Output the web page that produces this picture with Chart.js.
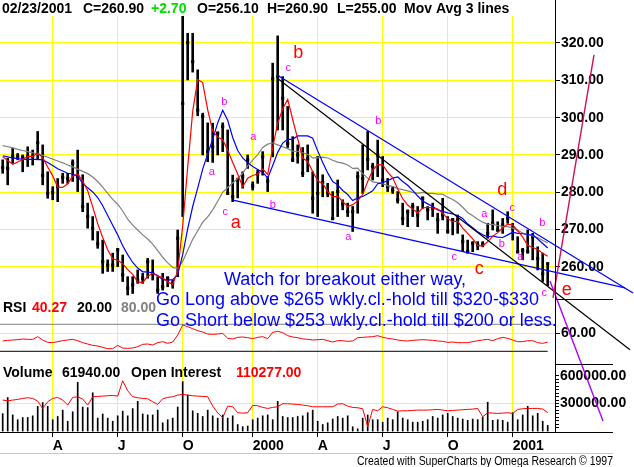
<!DOCTYPE html>
<html lang="en">
<head>
<meta charset="utf-8">
<title>Gold weekly, Jan 1999 - Feb 2001</title>
<script src="https://cdn.jsdelivr.net/npm/chart.js@4.4.1/dist/chart.umd.min.js"></script>
<style>
  html, body { margin: 0; padding: 0; background: #fff; overflow: hidden; }
  canvas { display: block; }
</style>
</head>
<body>
<canvas id="chart" width="634" height="467"></canvas>
<script>
// one entry per week, 01/22/1999 .. 02/23/2001 (x value = week number)
const highs = [
  288.7, 289.1, 291.8, 290.4, 290.0, 292.2, 291.3, 296.3, 292.7, 285.5,
  281.5, 283.7, 285.1, 285.1, 288.7, 291.3, 284.7, 277.1, 273.5, 269.5,
  267.2, 261.9, 263.7, 265.0, 263.2, 257.4, 257.4, 259.2, 258.3, 262.3,
  261.9, 257.4, 258.3, 257.4, 256.5, 269.9, 327.5, 322.6, 322.6, 312.8,
  301.2, 298.6, 298.5, 296.2, 298.6, 296.7, 284.6, 283.8, 285.5, 290.0,
  282.8, 286.0, 290.9, 284.2, 314.6, 321.9, 311.0, 303.0, 294.9, 292.7,
  292.0, 292.7, 285.5, 289.6, 284.7, 282.4, 280.2, 283.3, 278.0, 277.1,
  276.2, 285.5, 292.7, 296.3, 287.8, 294.0, 289.6, 283.7, 281.5, 280.2,
  277.1, 275.3, 277.1, 276.2, 278.8, 276.2, 277.1, 274.4, 278.4, 273.5,
  273.0, 273.9, 268.6, 267.2, 266.8, 266.8, 266.8, 271.7, 275.3, 272.1,
  273.0, 274.8, 271.7, 268.1, 265.0, 269.9, 269.0, 265.4, 263.7, 260.9
];
const lows = [
  285.1, 282.0, 287.8, 288.7, 285.5, 286.9, 287.3, 288.7, 282.0, 278.4,
  278.0, 277.5, 282.4, 282.4, 282.9, 280.2, 274.8, 270.4, 267.2, 265.0,
  258.3, 258.8, 258.8, 260.1, 256.1, 252.5, 252.9, 255.6, 255.6, 257.0,
  256.5, 252.9, 253.8, 254.7, 254.3, 257.4, 273.5, 310.1, 312.2, 300.5,
  290.0, 288.2, 288.0, 290.0, 290.9, 279.7, 277.5, 278.5, 281.1, 286.4,
  280.6, 282.4, 284.6, 280.2, 289.5, 296.7, 296.7, 292.0, 288.2, 287.8,
  284.2, 285.5, 274.4, 273.5, 278.8, 278.8, 272.6, 273.5, 275.3, 273.5,
  269.5, 274.4, 279.7, 286.0, 283.3, 284.2, 281.5, 280.2, 279.7, 277.1,
  271.3, 270.8, 273.5, 270.8, 275.7, 272.6, 273.5, 269.0, 272.6, 269.0,
  268.6, 269.0, 264.1, 263.7, 264.1, 264.6, 265.4, 267.7, 269.9, 269.5,
  269.0, 271.7, 267.2, 263.7, 261.9, 263.7, 261.9, 259.2, 256.1, 255.0
];
const closes = [
  286.6, 286.4, 289.6, 289.6, 289.4, 289.6, 289.6, 293.3, 284.5, 279.7,
  279.9, 281.5, 284.0, 283.7, 287.8, 284.2, 276.2, 273.5, 270.4, 266.2,
  261.4, 260.5, 260.5, 264.6, 257.9, 254.3, 255.2, 256.5, 257.0, 261.4,
  258.3, 253.8, 254.7, 257.0, 255.6, 267.7, 303.8, 320.1, 315.0, 302.0,
  300.3, 290.9, 292.2, 295.8, 297.6, 279.7, 278.8, 283.3, 284.2, 288.7,
  281.7, 284.9, 289.5, 283.0, 310.4, 311.0, 305.2, 293.1, 288.7, 290.0,
  285.1, 289.0, 278.4, 279.7, 282.6, 279.9, 273.0, 280.2, 276.9, 274.8,
  274.8, 284.2, 283.7, 288.8, 286.9, 290.0, 283.3, 281.5, 280.6, 278.0,
  273.0, 274.8, 276.2, 273.9, 278.4, 275.3, 275.7, 272.6, 273.9, 269.5,
  272.6, 272.6, 266.8, 264.1, 266.3, 265.9, 266.1, 269.0, 271.7, 269.9,
  271.3, 273.0, 270.4, 264.1, 264.4, 264.1, 268.1, 262.3, 258.2, 260.9
];
// the three moving average lines (red, blue, grey)
const maFast = [
  289.5, 288.5, 287.5, 288.1, 288.8, 289.6, 289.6, 290.5, 289.3, 286.8,
  284.4, 281.4, 281.3, 282.3, 284.3, 284.9, 283.0, 280.4, 276.1, 271.6,
  267.9, 264.6, 262.2, 261.8, 260.9, 259.3, 258.0, 256.0, 255.8, 257.5,
  258.3, 257.6, 257.1, 256.0, 255.3, 258.8, 271.0, 286.8, 301.7, 310.2,
  309.4, 302.1, 296.4, 294.8, 294.1, 291.3, 288.0, 284.9, 281.5, 283.8,
  284.5, 284.9, 286.2, 284.8, 292.0, 298.5, 302.4, 304.9, 299.5, 294.3,
  289.2, 288.2, 285.6, 283.1, 282.4, 280.2, 278.8, 278.9, 277.5, 276.2,
  276.7, 277.7, 279.4, 282.9, 285.9, 287.4, 287.3, 285.4, 283.9, 280.9,
  278.3, 276.6, 275.5, 274.5, 275.8, 276.0, 275.8, 275.5, 274.4, 272.9,
  272.2, 272.2, 270.4, 269.0, 267.5, 265.8, 265.6, 266.8, 268.2, 269.2,
  270.5, 271.5, 271.2, 269.7, 268.0, 265.8, 265.2, 264.7, 263.7, 262.9
];
const maMid = [
  289.8, 289.5, 289.2, 289.0, 288.9, 288.8, 288.8, 288.8, 288.7, 288.0,
  287.2, 286.3, 285.7, 285.1, 284.9, 284.3, 282.4, 281.2, 280.1, 278.6,
  276.4, 273.8, 271.2, 268.6, 265.7, 263.3, 261.2, 259.7, 258.7, 258.7,
  258.4, 257.7, 256.6, 256.5, 256.6, 258.0, 263.3, 270.3, 276.2, 281.1,
  286.2, 290.3, 294.2, 298.6, 302.0, 299.3, 294.7, 291.2, 289.2, 287.9,
  286.9, 286.1, 285.4, 283.8, 287.2, 290.7, 293.2, 294.2, 294.2, 295.1,
  295.1, 295.1, 294.5, 291.1, 288.0, 285.2, 282.9, 282.0, 280.5, 279.4,
  277.8, 278.5, 278.9, 279.6, 280.4, 282.3, 282.6, 283.1, 283.8, 284.1,
  282.9, 281.9, 280.5, 279.0, 277.7, 276.9, 276.2, 275.3, 274.9, 274.5,
  274.2, 273.8, 273.0, 271.5, 270.5, 269.4, 268.6, 268.1, 268.3, 268.0,
  267.9, 268.6, 269.3, 269.0, 268.9, 268.7, 268.6, 267.5, 266.3, 265.1
];
const maSlow = [
  292.5, 292.2, 291.9, 291.5, 291.2, 290.9, 290.6, 290.3, 289.9, 289.4,
  288.9, 288.4, 287.9, 287.3, 286.8, 286.2, 285.6, 285.0, 284.1, 282.9,
  281.4, 279.7, 278.1, 276.8, 275.0, 272.8, 271.2, 269.9, 268.6, 267.5,
  266.1, 264.4, 262.6, 261.1, 259.9, 259.6, 261.5, 264.5, 267.4, 269.7,
  272.0, 273.4, 275.3, 277.6, 280.0, 281.3, 282.5, 283.7, 285.1, 287.1,
  288.6, 290.1, 292.0, 292.9, 293.2, 292.7, 292.2, 291.7, 291.0, 291.0,
  290.6, 290.2, 289.2, 289.2, 289.4, 289.2, 288.6, 288.1, 287.8, 287.3,
  286.4, 286.5, 285.0, 283.8, 282.8, 282.6, 282.3, 281.8, 281.6, 281.0,
  280.7, 280.4, 280.0, 279.7, 280.0, 279.7, 279.7, 279.5, 279.5, 278.7,
  278.1, 277.2, 276.0, 274.6, 273.7, 272.8, 272.0, 271.5, 271.4, 271.1,
  270.9, 270.8, 270.4, 269.8, 269.1, 268.7, 268.3, 267.9, 267.1, 266.5
];
const rsi = [
  42.9, 44.4, 45.1, 45.8, 47.3, 46.6, 46.6, 52.5, 45.1, 39.9,
  39.2, 41.4, 43.6, 45.1, 46.6, 43.6, 39.2, 36.2, 33.2, 31.8,
  28.8, 25.8, 25.8, 33.2, 27.3, 26.6, 27.3, 30.3, 35.5, 36.2,
  34.0, 39.2, 41.4, 37.7, 40.6, 56.2, 78.4, 74.7, 70.3, 65.8,
  62.9, 58.4, 57.7, 58.4, 59.9, 48.8, 47.3, 51.0, 51.8, 50.3,
  48.1, 51.0, 52.5, 48.1, 62.1, 64.4, 61.4, 54.7, 51.8, 50.3,
  47.5, 46.6, 45.1, 45.8, 46.6, 43.6, 40.6, 43.6, 43.6, 42.1,
  42.9, 50.3, 51.0, 51.8, 52.5, 54.7, 51.0, 48.8, 47.3, 45.1,
  43.6, 42.9, 44.4, 45.1, 45.8, 45.1, 44.4, 42.9, 42.1, 39.9,
  40.6, 39.2, 39.2, 39.2, 41.4, 43.6, 45.1, 46.6, 43.6, 48.1,
  51.0, 48.8, 45.1, 41.4, 41.4, 43.6, 43.6, 39.2, 37.7, 40.27
];
const volume = [
  190000, 365000, 176000, 124000, 148000, 148000, 166000, 269000, 310000, 269000,
  124000, 159000, 228000, 107000, 210000, 531000, 262000, 255000, 417000, 141000,
  186000, 141000, 107000, 166000, 217000, 166000, 245000, 324000, 186000, 176000,
  176000, 228000, 90000, 124000, 141000, 262000, 538000, 393000, 221000, 193000,
  159000, 228000, 166000, 141000, 176000, 141000, 166000, 72000, 48000, 55000,
  124000, 141000, 166000, 176000, 124000, 324000, 159000, 148000, 148000, 159000,
  166000, 200000, 228000, 107000, 72000, 90000, 131000, 159000, 141000, 166000,
  48000, 25000, 141000, 176000, 124000, 124000, 97000, 141000, 124000, 210000,
  141000, 124000, 97000, 97000, 107000, 124000, 159000, 141000, 176000, 193000,
  159000, 141000, 131000, 117000, 131000, 124000, 152000, 314000, 117000, 124000,
  117000, 97000, 200000, 124000, 176000, 269000, 166000, 193000, 107000, 61940
];
const openInterest = [
  148000, 146000, 148000, 150000, 153000, 155000, 153000, 145000, 123000, 143000,
  153000, 156000, 148000, 133000, 156000, 158000, 151000, 133000, 158000, 159000,
  160000, 161000, 162000, 160000, 206000, 176000, 158000, 155000, 153000, 152000,
  143000, 135000, 152000, 156000, 158000, 163000, 165000, 163000, 161000, 160000,
  159000, 158000, 130000, 110000, 95000, 130000, 128000, 110000, 109000, 110000,
  132000, 131000, 126000, 123000, 126000, 128000, 137000, 137000, 136000, 135000,
  133000, 131000, 128000, 128000, 128000, 128000, 128000, 136000, 137000, 130000,
  126000, 125000, 122000, 68000, 120000, 116000, 128000, 125000, 120000, 115000,
  116000, 116000, 117000, 118000, 118000, 118000, 119000, 120000, 118000, 116000,
  117000, 118000, 119000, 120000, 121000, 123000, 98000, 110000, 109000, 108000,
  109000, 110000, 108000, 120000, 122000, 123000, 123000, 123000, 121000, 110277
];

const tickWeeks = [10, 23, 36, 50, 63, 76, 89, 102];
const tickLabels = ['A', 'J', 'O', '2000', 'A', 'J', 'O', '2001'];
const priceTicks = [260, 270, 280, 290, 300, 310, 320];
const rsiTicks = [60];
const volLabelTicks = [300000, 600000];
const rsiLevels = [80, 20];

// drawn-in trend lines and arrows, [week, price] end points
const trendUpper = [[54.86, 311.4], [126.06, 253.0]];
const trendSteep = [[54.86, 310.6], [125.46, 237.8]];
const trendLower = [[46.06, 277.9], [124.46, 254.4]];
const arrowUp = [[110.06, 251.7], [118.26, 316.8]];
const arrowDown = [[109.46, 256.25], [120.06, 218.74]];

// wave labels [week, price, letter]
const waveMinor = [
  [44.3, 304.3, 'b'], [41.8, 285.5, 'a'], [44.5, 274.8, 'c'], [50.1, 294.8, 'a'],
  [54.0, 276.6, 'b'], [57.1, 313.2, 'c'], [75.1, 299.2, 'b'], [69.1, 268.0, 'a'],
  [90.3, 262.8, 'c'], [96.3, 274.1, 'a'], [99.8, 266.1, 'b'], [101.9, 275.7, 'c'],
  [103.5, 262.8, 'a'], [107.9, 271.7, 'b'], [108.3, 253.0, 'c']
];
const waveMajor = [
  [46.6, 271.9, 'a'], [59.1, 317.2, 'b'], [95.3, 259.5, 'c'], [99.9, 280.6, 'd'], [112.8, 253.8, 'e']
];
const comments = [
  'Watch for breakout either way,',
  'Go Long above $265 wkly.cl.-hold till $320-$330',
  'Go Short below $253 wkly.cl.-hold till $200 or less.'
];
const commentAt = [[44.26, 255.3], [30.66, 249.8], [30.66, 244.2]];

const header = [
  ['02/23/2001', '#000'], ['C=260.90', '#000'], ['+2.70', '#00e000'], ['O=256.10', '#000'],
  ['H=260.90', '#000'], ['L=255.00', '#000'], ['Mov Avg 3 lines', '#000']
];
const headerX = [2, 83, 151, 197, 267, 337, 404];
const rsiLegend = [['RSI', '#000', 3], ['40.27', '#ff0000', 32], ['20.00', '#000', 77], ['80.00', '#808080', 121]];
const volLegend = [['Volume', '#000', 3], ['61940.00', '#000', 62], ['Open Interest', '#000', 131], ['110277.00', '#ff0000', 236]];
const footer = 'Created with SuperCharts by Omega Research \u00A9 1997';

const FONT = '"Liberation Sans", Arial, Helvetica, sans-serif';
const YELLOW = '#ffff00';
const tickFont = { family: FONT, size: 14, weight: 'bold' };

const series = arr => arr.map((v, i) => ({ x: i, y: v }));
const pairs = arr => arr.map(p => ({ x: p[0], y: p[1] }));

function line(data, color, axis, width, order) {
  return { type: 'line', data, yAxisID: axis, borderColor: color, borderWidth: width,
    pointRadius: 0, tension: 0, fill: false, order };
}
function trend(points, color) {
  return Object.assign(line(pairs(points), color, 'price', 1.2, 1), { clip: false });
}
function arrow(points, color, head, edge, angle, size) {
  return Object.assign(line(pairs(points), color, 'price', 1.4, 0), {
    clip: false, pointStyle: 'triangle', pointRadius: [0, size], pointRotation: [0, angle],
    pointBackgroundColor: head, pointBorderColor: edge, pointBorderWidth: 1
  });
}
function rightAxis(weight, min, max, ticks) {
  return {
    type: 'linear', position: 'right', stack: 'panes', stackWeight: weight,
    min, max, offset: false, beginAtZero: false,
    grid: { color: YELLOW, lineWidth: 1, drawTicks: true, tickLength: 5, tickColor: '#000' },
    border: { display: true, color: '#000' },
    afterBuildTicks: s => { s.ticks = ticks.map(v => ({ value: v })); },
    afterFit: s => { s.width = 79; s.paddingTop = 0; s.paddingBottom = 0; },
    ticks: { autoSkip: false, padding: 1, color: '#000', font: tickFont,
      callback: v => Number(v).toFixed(2) }
  };
}

const volAxis = rightAxis(68, -10000, 730000, []);
volAxis.afterBuildTicks = s => {
  const t = [];
  for (let v = 37500; v <= 600000; v += 37500) t.push({ value: v });
  s.ticks = t;
};
volAxis.grid.tickLength = 4;
volAxis.grid.color = c => (c.tick && c.tick.value === 300000 ? YELLOW : 'rgba(0,0,0,0)');
volAxis.ticks.callback = v => (volLabelTicks.includes(v) ? v.toFixed(2) : '');

const overlay = {
  id: 'overlay',
  beforeDraw(chart) {
    const ctx = chart.ctx;
    ctx.save();
    ctx.fillStyle = '#fff';
    ctx.fillRect(0, 0, chart.width, chart.height);
    ctx.restore();
  },
  afterDraw(chart) {
    const { ctx, chartArea: area, scales } = chart;
    const px = v => scales.x.getPixelForValue(v);
    const py = v => scales.price.getPixelForValue(v);
    const edge = 613;
    const text = (s, x, y, font, color, align, base) => {
      ctx.font = font;
      ctx.fillStyle = color;
      ctx.textAlign = align || 'left';
      ctx.textBaseline = base || 'alphabetic';
      ctx.fillText(s, x, y);
    };
    ctx.save();

    // frame pieces outside the plot
    ctx.strokeStyle = '#000';
    ctx.lineWidth = 1;
    ctx.beginPath();
    const r = Math.round(area.right) + 0.5;
    ctx.moveTo(r, 0);
    ctx.lineTo(r, area.bottom);
    [scales.price.bottom, scales.rsi.bottom].forEach(y => {
      const yy = Math.round(y) + 0.5;
      ctx.moveTo(area.right, yy);
      ctx.lineTo(edge, yy);
    });
    const b = Math.round(area.bottom) + 0.5;
    ctx.moveTo(area.left, b);
    ctx.lineTo(edge, b);
    ctx.stroke();
    ctx.strokeStyle = '#c8c8c8';
    ctx.beginPath();
    ctx.moveTo(0, 453.5);
    ctx.lineTo(edge, 453.5);
    ctx.stroke();

    const bold = `bold 14px ${FONT}`;
    header.forEach((h, i) => text(h[0], headerX[i], 13, bold, h[1]));
    rsiLegend.forEach(h => text(h[0], h[2], scales.rsi.top + 13, bold, h[1]));
    volLegend.forEach(h => text(h[0], h[2], scales.vol.top + 13, bold, h[1]));

    comments.forEach((c, i) => text(c, px(commentAt[i][0]), py(commentAt[i][1]), `18px ${FONT}`, '#0000ff'));
    waveMinor.forEach(w => text(w[2], px(w[0]), py(w[1]), `11px ${FONT}`, '#ff00ff', 'center', 'middle'));
    waveMajor.forEach(w => text(w[2], px(w[0]), py(w[1]), `18px ${FONT}`, '#ff0000', 'center', 'middle'));

    ctx.font = `12px ${FONT}`;
    const fw = ctx.measureText(footer).width;
    ctx.translate(357, 465);
    ctx.scale(256 / fw, 1);
    text(footer, 0, 0, `12px ${FONT}`, '#000');
    ctx.restore();
  }
};

new Chart(document.getElementById('chart'), {
  type: 'bar',
  data: {
    datasets: [
      { type: 'bar', data: highs.map((h, i) => ({ x: i, y: [lows[i], h] })), yAxisID: 'price',
        backgroundColor: '#000', barThickness: 2, grouped: false, order: 6 },
      { type: 'line', data: series(closes), yAxisID: 'price', showLine: false,
        pointStyle: 'rect', pointRadius: 2.2, pointBackgroundColor: '#000', pointBorderWidth: 0, order: 5 },
      line(series(maSlow), '#808080', 'price', 1.2, 4),
      line(series(maMid), '#0000ff', 'price', 1.2, 3),
      line(series(maFast), '#ff0000', 'price', 1.2, 2),
      trend(trendUpper, '#0000ff'),
      trend(trendSteep, '#000000'),
      trend(trendLower, '#0000ff'),
      arrow(arrowUp, '#d0105a', '#ff00ff', '#ff00ff', 9.6, 6),
      arrow(arrowDown, '#b000ff', '#4020ff', '#ff00ff', 159.3, 7),
      line([{ x: -0.54, y: rsiLevels[0] }, { x: 110, y: rsiLevels[0] }], '#808080', 'rsi', 1, 4),
      line([{ x: -0.54, y: rsiLevels[1] }, { x: 109, y: rsiLevels[1] }], '#000000', 'rsi', 1, 4),
      line(series(rsi), '#ff0000', 'rsi', 1, 2),
      { type: 'bar', data: series(volume), yAxisID: 'vol', backgroundColor: '#000',
        barThickness: 1, grouped: false, order: 6 },
      line(series(openInterest), '#ff0000', 'oi', 1, 2)
    ]
  },
  options: {
    responsive: false,
    animation: false,
    events: [],
    layout: { autoPadding: false, padding: { top: 16, left: 0, right: 0, bottom: 0 } },
    plugins: { legend: { display: false }, tooltip: { enabled: false } },
    scales: {
      x: {
        type: 'linear', min: -0.54, max: 110.46, offset: false,
        grid: { color: YELLOW, lineWidth: 1, offset: false, drawTicks: true, tickLength: 5, tickColor: '#000' },
        border: { display: true, color: '#000' },
        afterBuildTicks: s => { s.ticks = tickWeeks.map(v => ({ value: v })); },
        afterFit: s => { s.height = 35; s.paddingLeft = 0; s.paddingRight = 0; },
        ticks: { autoSkip: false, maxRotation: 0, minRotation: 0, align: 'start', padding: 1,
          color: '#000', font: tickFont,
          callback: v => (tickWeeks.indexOf(v) >= 0 ? tickLabels[tickWeeks.indexOf(v)] : '') }
      },
      price: rightAxis(283, 251.42, 327.23, priceTicks),
      rsi: rightAxis(65, -8.2, 136.2, rsiTicks),
      vol: volAxis,
      oi: { type: 'linear', position: 'right', display: false, min: 52277, max: 1300277,
        grid: { display: false } }
    }
  },
  plugins: [overlay]
});
</script>
</body>
</html>
